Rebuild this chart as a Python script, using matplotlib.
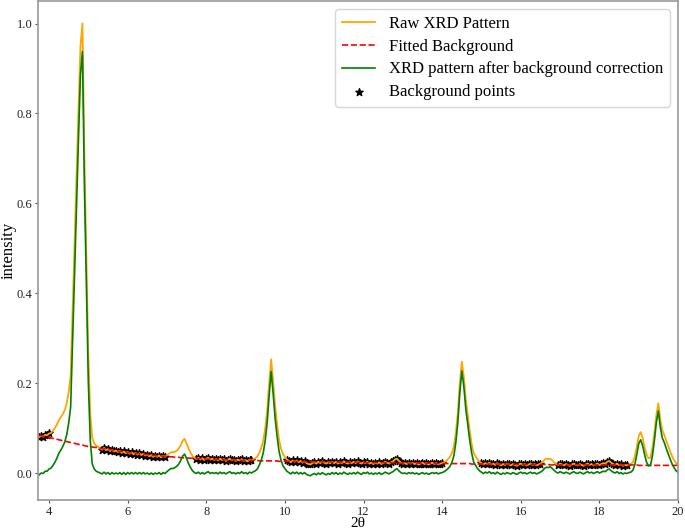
import numpy as np
import matplotlib
matplotlib.use("Agg")
import matplotlib.pyplot as plt

plt.rcParams['font.family'] = ['Liberation Serif', 'DejaVu Serif']

# 2theta grid of the pattern, step 0.05 from 3.75 to 20.0
two_theta = np.round(3.75 + 0.05 * np.arange(326), 2)

# raw XRD intensity (normalised), one row per 0.5 deg
raw = [
    0.080, 0.083, 0.081, 0.085, 0.084, 0.088, 0.089, 0.094, 0.100, 0.108,  # 3.75
    0.118, 0.124, 0.131, 0.140, 0.155, 0.180, 0.215, 0.360, 0.510, 0.660,  # 4.25
    0.810, 0.950, 1.000, 0.700, 0.480, 0.260, 0.130, 0.078, 0.066, 0.061,  # 4.75
    0.058, 0.055, 0.052, 0.056, 0.051, 0.053, 0.049, 0.052, 0.048, 0.050,  # 5.25
    0.047, 0.049, 0.045, 0.048, 0.044, 0.047, 0.043, 0.046, 0.042, 0.045,  # 5.75
    0.041, 0.044, 0.040, 0.043, 0.039, 0.041, 0.037, 0.040, 0.036, 0.039,  # 6.25
    0.036, 0.039, 0.035, 0.038, 0.036, 0.040, 0.043, 0.046, 0.046, 0.047,  # 6.75
    0.050, 0.055, 0.062, 0.072, 0.076, 0.066, 0.054, 0.045, 0.038, 0.034,  # 7.25
    0.031, 0.034, 0.030, 0.033, 0.029, 0.032, 0.034, 0.030, 0.032, 0.029,  # 7.75
    0.031, 0.028, 0.032, 0.029, 0.031, 0.027, 0.030, 0.032, 0.028, 0.030,  # 8.25
    0.027, 0.030, 0.028, 0.031, 0.027, 0.029, 0.026, 0.030, 0.028, 0.031,  # 8.75
    0.033, 0.037, 0.045, 0.056, 0.072, 0.100, 0.140, 0.200, 0.253, 0.205,  # 9.25
    0.150, 0.110, 0.075, 0.055, 0.042, 0.036, 0.030, 0.027, 0.024, 0.028,  # 9.75
    0.025, 0.028, 0.024, 0.027, 0.023, 0.026, 0.022, 0.020, 0.019, 0.022,  # 10.25
    0.024, 0.021, 0.025, 0.022, 0.026, 0.023, 0.021, 0.024, 0.022, 0.025,  # 10.75
    0.022, 0.025, 0.021, 0.024, 0.022, 0.026, 0.023, 0.021, 0.024, 0.022,  # 11.25
    0.025, 0.022, 0.026, 0.023, 0.021, 0.024, 0.022, 0.025, 0.021, 0.023,  # 11.75
    0.020, 0.023, 0.021, 0.024, 0.020, 0.022, 0.025, 0.023, 0.021, 0.024,  # 12.25
    0.026, 0.030, 0.032, 0.027, 0.023, 0.021, 0.022, 0.020, 0.023, 0.021,  # 12.75
    0.023, 0.020, 0.022, 0.019, 0.021, 0.023, 0.020, 0.022, 0.019, 0.021,  # 13.25
    0.023, 0.020, 0.022, 0.019, 0.021, 0.022, 0.024, 0.027, 0.031, 0.036,  # 13.75
    0.045, 0.060, 0.090, 0.135, 0.200, 0.248, 0.215, 0.165, 0.130, 0.095,  # 14.25
    0.065, 0.045, 0.037, 0.030, 0.025, 0.022, 0.019, 0.022, 0.020, 0.023,  # 14.75
    0.019, 0.021, 0.018, 0.022, 0.019, 0.017, 0.020, 0.018, 0.021, 0.019,  # 15.25
    0.017, 0.020, 0.018, 0.016, 0.019, 0.021, 0.018, 0.020, 0.017, 0.019,  # 15.75
    0.021, 0.018, 0.020, 0.017, 0.019, 0.021, 0.024, 0.029, 0.032, 0.031,  # 16.25
    0.032, 0.028, 0.024, 0.020, 0.018, 0.021, 0.019, 0.017, 0.020, 0.018,  # 16.75
    0.016, 0.019, 0.021, 0.018, 0.017, 0.020, 0.018, 0.016, 0.019, 0.021,  # 17.25
    0.018, 0.020, 0.017, 0.019, 0.021, 0.018, 0.020, 0.022, 0.021, 0.025,  # 17.75
    0.027, 0.023, 0.020, 0.018, 0.021, 0.017, 0.019, 0.016, 0.018, 0.017,  # 18.25
    0.019, 0.020, 0.024, 0.036, 0.058, 0.082, 0.091, 0.078, 0.058, 0.041,  # 18.75
    0.033, 0.034, 0.056, 0.090, 0.130, 0.155, 0.119, 0.095, 0.085, 0.072,  # 19.25
    0.060, 0.048, 0.037, 0.029, 0.022, 0.019,                              # 19.75
]

# fitted background curve on the same grid
background = [
    0.084, 0.083, 0.082, 0.081, 0.080, 0.079, 0.078, 0.077, 0.076, 0.075,
    0.074, 0.073, 0.072, 0.071, 0.070, 0.069, 0.068, 0.067, 0.066, 0.065,
    0.064, 0.063, 0.062, 0.061, 0.060, 0.059, 0.059, 0.058, 0.057, 0.057,
    0.056, 0.055, 0.054, 0.054, 0.053, 0.052, 0.052, 0.051, 0.050, 0.050,
    0.049, 0.048, 0.048, 0.047, 0.047, 0.046, 0.045, 0.045, 0.044, 0.044,
    0.043, 0.043, 0.042, 0.042, 0.041, 0.041, 0.040, 0.040, 0.039, 0.039,
    0.038, 0.038, 0.038, 0.037, 0.037, 0.037, 0.036, 0.036, 0.036, 0.035,
    0.035, 0.035, 0.034, 0.034, 0.034, 0.034, 0.033, 0.033, 0.033, 0.033,
    0.032, 0.032, 0.032, 0.032, 0.031, 0.031, 0.031, 0.031, 0.031, 0.030,
    0.030, 0.030, 0.030, 0.030, 0.030, 0.029, 0.029, 0.029, 0.029, 0.029,
    0.029, 0.029, 0.029, 0.028, 0.028, 0.028, 0.028, 0.028, 0.028, 0.028,
    0.028, 0.028, 0.027, 0.027, 0.027, 0.027, 0.027, 0.027, 0.027, 0.027,
    0.027, 0.027, 0.026, 0.026, 0.026, 0.026, 0.026, 0.026, 0.026, 0.026,
    0.026, 0.026, 0.026, 0.026, 0.025, 0.025, 0.025, 0.025, 0.025, 0.025,
    0.025, 0.025, 0.025, 0.025, 0.025, 0.025, 0.025, 0.025, 0.025, 0.024,
    0.024, 0.024, 0.024, 0.024, 0.024, 0.024, 0.024, 0.024, 0.024, 0.024,
    0.024, 0.024, 0.024, 0.024, 0.024, 0.023, 0.023, 0.023, 0.023, 0.023,
    0.023, 0.023, 0.023, 0.023, 0.023, 0.023, 0.023, 0.023, 0.023, 0.023,
    0.023, 0.023, 0.022, 0.022, 0.022, 0.022, 0.022, 0.022, 0.022, 0.022,
    0.022, 0.022, 0.022, 0.022, 0.022, 0.022, 0.022, 0.022, 0.022, 0.022,
    0.022, 0.021, 0.021, 0.021, 0.021, 0.021, 0.021, 0.021, 0.021, 0.021,
    0.021, 0.021, 0.021, 0.021, 0.021, 0.021, 0.021, 0.021, 0.021, 0.021,
    0.020, 0.020, 0.020, 0.020, 0.020, 0.020, 0.020, 0.020, 0.020, 0.020,
    0.020, 0.020, 0.020, 0.020, 0.020, 0.020, 0.020, 0.020, 0.020, 0.020,
    0.019, 0.019, 0.019, 0.019, 0.019, 0.019, 0.019, 0.019, 0.019, 0.019,
    0.019, 0.019, 0.019, 0.019, 0.019, 0.019, 0.019, 0.019, 0.019, 0.019,
    0.018, 0.018, 0.018, 0.018, 0.018, 0.018, 0.018, 0.018, 0.018, 0.018,
    0.018, 0.018, 0.018, 0.018, 0.018, 0.018, 0.018, 0.018, 0.018, 0.018,
    0.018, 0.018, 0.018, 0.018, 0.018, 0.018, 0.018, 0.018, 0.018, 0.018,
    0.018, 0.018, 0.018, 0.018, 0.018, 0.018, 0.018, 0.018, 0.018, 0.018,
    0.018, 0.018, 0.018, 0.018, 0.018, 0.017, 0.017, 0.017, 0.017, 0.017,
    0.017, 0.017, 0.017, 0.017, 0.017, 0.017, 0.017, 0.017, 0.017, 0.017,
    0.017, 0.017, 0.017, 0.017, 0.017, 0.017,
]

# 2theta windows where points were taken as background
bg_windows = [(3.74, 4.03), (5.32, 6.97), (7.72, 9.16),
              (10.05, 14.03), (14.98, 16.5), (16.93, 18.72)]

raw = np.asarray(raw)
background = np.asarray(background)
corrected = raw - background

mask = np.zeros(len(two_theta), dtype=bool)
for lo, hi in bg_windows:
    mask |= (two_theta >= lo) & (two_theta <= hi)

fig = plt.figure(figsize=(6.85, 5.30), dpi=100)
ax = fig.add_axes([0.0555, 0.0566, 0.9343, 0.9414])

ax.plot(two_theta, raw, color='orange', lw=1.3, label='Raw XRD Pattern')
ax.plot(two_theta, background, 'r--', lw=1.2, label='Fitted Background')
ax.plot(two_theta, corrected, color='green', lw=1.2,
        label='XRD pattern after background correction')
ax.scatter(two_theta[mask], raw[mask], marker='*', color='black', s=30,
           label='Background points')

ax.set_xlim(3.72, 20.0)
ax.set_ylim(-0.06, 1.05)
ax.set_xticks(np.arange(4, 21, 2))
ax.set_yticks(np.arange(0, 1.01, 0.2))
ax.tick_params(labelsize=9, colors='#555555', labelcolor='#222222',
               length=2.5, pad=1.5)
for sp in ax.spines.values():
    sp.set_color('#999999')
    sp.set_linewidth(1.2)

ax.set_xlabel('2θ', fontsize=11)
ax.xaxis.set_label_coords(0.5, -0.035)
ax.set_ylabel('intensity', fontsize=12, labelpad=0)
ax.legend(loc='upper right', fontsize=12, labelspacing=0.4)

fig.savefig('out.png', dpi=100)
